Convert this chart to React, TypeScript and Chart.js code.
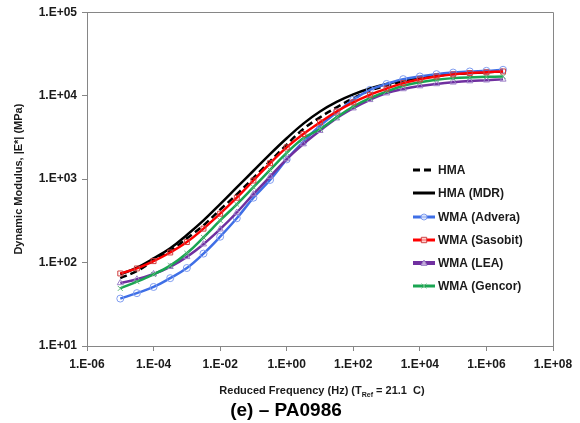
import React, { useEffect, useRef } from "react";
import { Chart, registerables } from "chart.js";

Chart.register(...registerables);

// Reduced frequency (Hz)
const frequencies = [
  1e-5, 3.16e-5, 1e-4, 3.16e-4, 1e-3, 3.16e-3, 1e-2, 3.16e-2, 1e-1, 3.16e-1,
  1, 3.16, 10, 31.6, 100, 316, 1e3, 3.16e3, 1e4, 3.16e4, 1e5, 3.16e5, 1e6, 3.16e6,
];

// Dynamic modulus |E*| (MPa)
const hma = [65, 79, 105, 138, 195, 279, 430, 655, 1035, 1637, 2588, 3981, 5495, 7244, 9333, 11482, 13183, 14791, 16218, 17378, 18197, 18836, 19275, 19498];
const hmaMdr = [72, 87, 112, 148, 214, 320, 501, 794, 1259, 1995, 3090, 4624, 6457, 8414, 10351, 12162, 13804, 15136, 16218, 17378, 18197, 18621, 19055, 19498];
const wmaAdvera = [37, 43, 51, 65, 86, 128, 204, 339, 598, 977, 1722, 2818, 4365, 6310, 8913, 11749, 13804, 15780, 16980, 18110, 18920, 19500, 19820, 20420];
const wmaSasobit = [74, 85, 104, 132, 176, 255, 385, 598, 962, 1549, 2399, 3467, 4786, 6457, 8318, 10233, 12162, 14125, 15668, 16982, 17989, 18621, 19055, 19498];
const wmaLea = [57, 63, 73, 89, 117, 166, 251, 398, 661, 1072, 1738, 2630, 3802, 5370, 7079, 8913, 10715, 12023, 13032, 13804, 14454, 14962, 15311, 15668];
const wmaGencor = [49, 59, 72, 92, 129, 200, 320, 498, 800, 1288, 2061, 3090, 3981, 5495, 7413, 9333, 11220, 13122, 14454, 15488, 16218, 16596, 16788, 16982];

const seriesNames = ["HMA", "HMA (MDR)", "WMA (Advera)", "WMA (Sasobit)", "WMA (LEA)", "WMA (Gencor)"];

const xTickValues = [1e-6, 1e-4, 1e-2, 1, 1e2, 1e4, 1e6, 1e8];
const xTickLabels = ["1.E-06", "1.E-04", "1.E-02", "1.E+00", "1.E+02", "1.E+04", "1.E+06", "1.E+08"];
const yTickValues = [10, 100, 1000, 10000, 100000];
const yTickLabels = ["1.E+01", "1.E+02", "1.E+03", "1.E+04", "1.E+05"];

const FONT = "'Liberation Sans', Arial, sans-serif";
const AXIS_COLOR = "#868686";
const TEXT_COLOR = "#1a1a1a";

type Style = {
  color: string;
  marker: string | false;
  markerColor: string;
  dash: number[];
  width: number;
  legendWidth: number;
};

const styles: Style[] = [
  { color: "#000000", marker: false, markerColor: "#000", dash: [7, 4], width: 2.5, legendWidth: 3 },
  { color: "#000000", marker: false, markerColor: "#000", dash: [], width: 2.5, legendWidth: 3 },
  { color: "#3f6fe6", marker: "circle", markerColor: "#7f9cf0", dash: [], width: 2.5, legendWidth: 3 },
  { color: "#ff0000", marker: "rect", markerColor: "#d04040", dash: [], width: 2.5, legendWidth: 3 },
  { color: "#7030a0", marker: "triangle", markerColor: "#9c80c8", dash: [], width: 2.5, legendWidth: 4 },
  { color: "#1aa552", marker: "crossRot", markerColor: "#5cb87a", dash: [], width: 2.5, legendWidth: 3 },
];

const seriesValues = [hma, hmaMdr, wmaAdvera, wmaSasobit, wmaLea, wmaGencor];

function drawMarker(ctx: CanvasRenderingContext2D, type: string, x: number, y: number, r: number, color: string) {
  ctx.save();
  ctx.strokeStyle = color;
  ctx.lineWidth = 1;
  ctx.setLineDash([]);
  ctx.fillStyle = "rgba(255,255,255,0.6)";
  ctx.beginPath();
  if (type === "circle") {
    ctx.arc(x, y, r, 0, Math.PI * 2);
    ctx.fill();
    ctx.stroke();
  } else if (type === "rect") {
    ctx.rect(x - r * 0.9, y - r * 0.9, r * 1.8, r * 1.8);
    ctx.fill();
    ctx.stroke();
  } else if (type === "triangle") {
    ctx.moveTo(x, y - r);
    ctx.lineTo(x + r, y + r * 0.8);
    ctx.lineTo(x - r, y + r * 0.8);
    ctx.closePath();
    ctx.fill();
    ctx.stroke();
  } else if (type === "crossRot") {
    ctx.moveTo(x - r * 0.8, y - r * 0.8);
    ctx.lineTo(x + r * 0.8, y + r * 0.8);
    ctx.moveTo(x + r * 0.8, y - r * 0.8);
    ctx.lineTo(x - r * 0.8, y + r * 0.8);
    ctx.stroke();
  }
  ctx.restore();
}

const decorPlugin = {
  id: "decor",
  afterDraw(chart: any) {
    const ctx: CanvasRenderingContext2D = chart.ctx;
    const area = chart.chartArea;
    ctx.save();
    // top & right border
    ctx.strokeStyle = AXIS_COLOR;
    ctx.lineWidth = 1;
    ctx.beginPath();
    ctx.moveTo(area.left, Math.round(area.top) + 0.5);
    ctx.lineTo(Math.round(area.right) + 0.5, Math.round(area.top) + 0.5);
    ctx.lineTo(Math.round(area.right) + 0.5, area.bottom);
    ctx.stroke();

    ctx.fillStyle = TEXT_COLOR;
    // Y title
    ctx.save();
    ctx.translate(19, (area.top + area.bottom) / 2);
    ctx.rotate(-Math.PI / 2);
    ctx.font = `bold 11px ${FONT}`;
    ctx.textAlign = "center";
    ctx.textBaseline = "middle";
    ctx.fillText("Dynamic Modulus, |E*| (MPa)", 0, 0);
    ctx.restore();

    // X title with subscript
    const p1 = "Reduced Frequency (Hz) (T";
    const sub = "Ref";
    const p3 = " = 21.1  C)";
    ctx.textBaseline = "alphabetic";
    ctx.textAlign = "left";
    ctx.font = `bold 11px ${FONT}`;
    const w1 = ctx.measureText(p1).width;
    const w3 = ctx.measureText(p3).width;
    ctx.font = `bold 7px ${FONT}`;
    const w2 = ctx.measureText(sub).width;
    const total = w1 + w2 + w3;
    const cx = (area.left + area.right) / 2 + 2;
    let sx = cx - total / 2;
    const by = 394;
    ctx.font = `bold 11px ${FONT}`;
    ctx.fillText(p1, sx, by);
    ctx.font = `bold 7px ${FONT}`;
    ctx.fillText(sub, sx + w1, by + 3);
    ctx.font = `bold 11px ${FONT}`;
    ctx.fillText(p3, sx + w1 + w2, by);

    // Caption
    ctx.font = `bold 19px ${FONT}`;
    ctx.textAlign = "center";
    ctx.textBaseline = "middle";
    ctx.fillStyle = "#000";
    ctx.fillText("(e) – PA0986", 286, 411);

    // Legend
    const legendYs = [170, 193, 217, 240, 263, 286];
    ctx.font = `bold 12px ${FONT}`;
    ctx.textAlign = "left";
    ctx.textBaseline = "middle";
    seriesNames.forEach((name, i) => {
      const s = styles[i];
      const y = legendYs[i];
      ctx.save();
      ctx.strokeStyle = s.color;
      ctx.lineWidth = s.legendWidth;
      ctx.setLineDash(s.dash);
      ctx.beginPath();
      ctx.moveTo(413, y);
      ctx.lineTo(435, y);
      ctx.stroke();
      ctx.restore();
      if (s.marker) drawMarker(ctx, s.marker, 424, y, 3, s.markerColor);
      ctx.fillStyle = TEXT_COLOR;
      ctx.fillText(name, 438, y + 0.5);
    });
    ctx.restore();
  },
};

export default function App() {
  const canvasRef = useRef<HTMLCanvasElement | null>(null);

  useEffect(() => {
    if (!canvasRef.current) return;
    const datasets = seriesNames.map((name, i) => {
      const s = styles[i];
      return {
        label: name,
        data: frequencies.map((f, j) => ({ x: f, y: seriesValues[i][j] })),
        borderColor: s.color,
        backgroundColor: s.color,
        borderWidth: s.width,
        borderDash: s.dash,
        tension: 0.4,
        pointStyle: s.marker || "circle",
        pointRadius: s.marker ? 3.5 : 0,
        pointBorderColor: s.markerColor,
        pointBackgroundColor: "rgba(255,255,255,0)",
        pointBorderWidth: 1,
        fill: false,
        order: [5, 4, 3, 0, 2, 1][i],
      };
    });

    const chart = new Chart(canvasRef.current, {
      type: "line",
      data: { datasets },
      options: {
        responsive: false,
        animation: false,
        devicePixelRatio: 1,
        layout: { padding: { top: 11, right: 27, bottom: 0, left: 0 } },
        plugins: { legend: { display: false }, tooltip: { enabled: false } },
        scales: {
          x: {
            type: "logarithmic",
            min: 1e-6,
            max: 1e8,
            afterBuildTicks: (scale: any) => {
              scale.ticks = xTickValues.map((v) => ({ value: v }));
            },
            afterFit: (scale: any) => {
              scale.height = 77;
            },
            border: { display: true, color: AXIS_COLOR, width: 1 },
            grid: { display: true, drawOnChartArea: false, drawTicks: true, tickLength: 5, color: AXIS_COLOR },
            ticks: {
              autoSkip: false,
              maxRotation: 0,
              padding: 6,
              color: TEXT_COLOR,
              font: { family: FONT, size: 12, weight: "bold" },
              callback: (_v: any, idx: number) => xTickLabels[idx],
            },
          },
          y: {
            type: "logarithmic",
            min: 10,
            max: 100000,
            afterBuildTicks: (scale: any) => {
              scale.ticks = yTickValues.map((v) => ({ value: v }));
            },
            afterFit: (scale: any) => {
              scale.width = 87;
            },
            border: { display: true, color: AXIS_COLOR, width: 1 },
            grid: { display: true, drawOnChartArea: false, drawTicks: true, tickLength: 5, color: AXIS_COLOR },
            ticks: {
              autoSkip: false,
              padding: 5,
              color: TEXT_COLOR,
              font: { family: FONT, size: 12, weight: "bold" },
              callback: (_v: any, idx: number) => yTickLabels[idx],
            },
          },
        },
      } as any,
      plugins: [decorPlugin],
    });
    return () => chart.destroy();
  }, []);

  return (
    <div style={{ position: "absolute", left: 0, top: 0, width: 580, height: 423, background: "#fff" }}>
      <canvas ref={canvasRef} width={580} height={423} style={{ display: "block", width: 580, height: 423 }} />
    </div>
  );
}
